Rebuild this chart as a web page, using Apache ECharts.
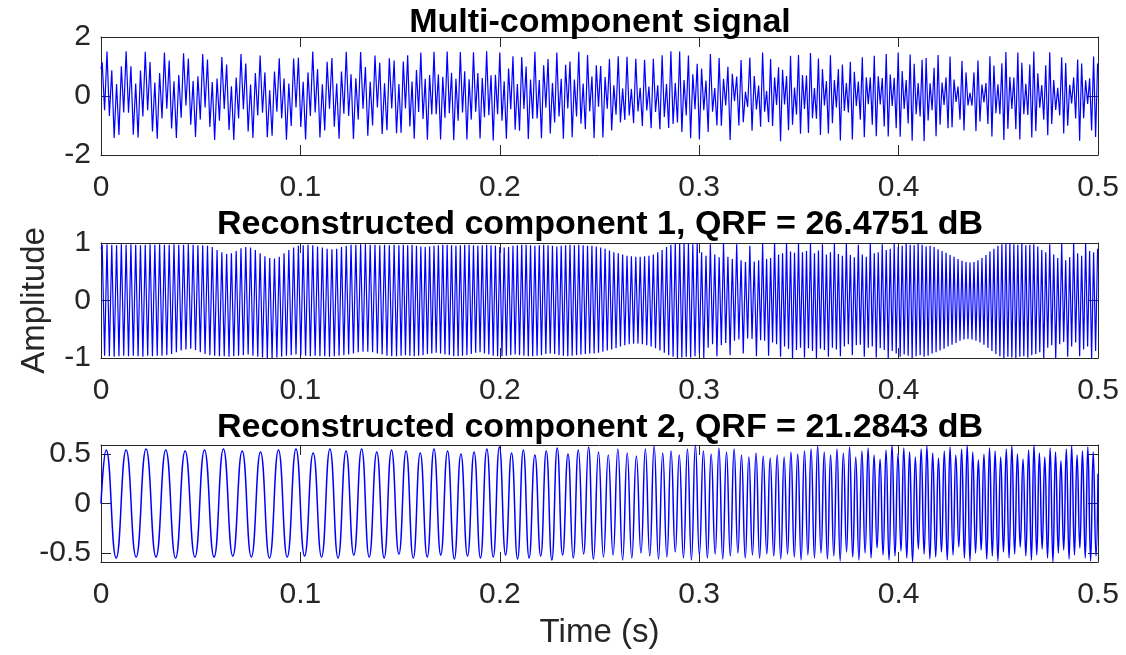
<!DOCTYPE html>
<html>
<head>
<meta charset="utf-8">
<script src="https://cdn.jsdelivr.net/npm/echarts@6/dist/echarts.min.js"></script>
<style>
  html, body { margin: 0; padding: 0; background: #ffffff; }
  #chart { width: 1126px; height: 655px; }
</style>
</head>
<body>
<div id="chart"></div>
<script>
// ---- data -------------------------------------------------------------
// Time axis (ms) and its tick positions.
const timeTickMs = [0, 100, 200, 300, 400, 500];

const panelTitles = [
  'Multi-component signal',
  'Reconstructed component 1, QRF = 26.4751 dB',
  'Reconstructed component 2, QRF = 21.2843 dB'
];

const mixtureYTicks = [-2, 0, 2];
const comp1YTicks = [-1, 0, 1];
const comp2YTicks = [-0.5, 0, 0.5];

// Turning points (ms) of the fast 400-500 Hz oscillation, shared by the
// multi-component signal and the reconstructed component 1.
const carrierExtremaMs = [0,
  0.6,1.8,3,4.2,5.4,6.6,7.8,9,10.2,11.4,
  12.6,13.8,15,16.2,17.4,18.6,19.8,21,22.2,23.4,
  24.6,25.8,27,28.2,29.4,30.6,31.8,33,34.2,35.4,
  36.6,37.8,39,40.2,41.4,42.6,43.8,45,46.2,47.4,
  48.6,49.8,51,52.2,53.4,54.6,55.8,57,58.2,59.4,
  60.6,61.8,63,64.2,65.4,66.6,67.8,69,70.2,71.4,
  72.6,73.8,75,76.2,77.4,78.6,79.8,81,82.2,83.4,
  84.6,85.8,87,88.2,89.4,90.6,91.8,93,94.2,95.4,
  96.6,97.8,99,100.2,101.4,102.6,103.8,105,106.2,107.4,
  108.6,109.8,111,112.2,113.4,114.6,115.8,117,118.2,119.4,
  120.6,121.8,123,124.2,125.4,126.6,127.8,129,130.2,131.4,
  132.6,133.8,135,136.2,137.4,138.6,139.8,141,142.2,143.4,
  144.6,145.8,147,148.2,149.4,
  150.5,151.6,152.7,153.8,154.9,156,157.1,158.2,159.3,160.4,
  161.5,162.6,163.7,164.8,165.9,167,168.1,169.2,170.3,171.4,
  172.5,173.6,174.7,175.8,176.9,178,179.1,180.2,181.3,182.4,
  183.5,184.6,185.7,186.8,187.9,189,190.1,191.2,192.3,193.4,
  194.5,195.6,196.7,197.8,198.9,200,201.1,202.2,203.3,204.4,
  205.5,206.6,207.7,208.8,209.9,211,212.1,213.2,214.3,215.4,
  216.5,217.6,218.7,219.8,220.9,222,223.1,224.2,225.3,226.4,
  227.5,228.6,229.7,230.8,231.9,233,234.1,235.2,236.3,237.4,
  238.5,239.6,240.7,241.8,242.9,244,245.1,246.2,247.3,248.4,
  249.5,250.6,251.7,252.8,253.9,255,256.1,257.2,258.3,259.4,
  260.5,261.6,262.7,263.8,264.9,266,267.1,268.2,269.3,270.4,
  271.5,272.6,273.7,274.8,275.9,277,278.1,279.2,280.3,281.4,
  282.5,283.6,284.7,285.8,286.9,288,289.1,290.2,291.3,292.4,
  293.5,294.6,295.7,296.8,297.9,299,300.1,301.2,302.3,303.4,
  304.5,305.6,306.7,307.8,308.9,310,311.1,312.2,313.3,314.4,
  315.5,316.6,317.7,318.8,319.9,321,322.1,323.2,324.3,325.4,
  326.5,327.6,328.7,329.8,
  330.8,331.8,332.8,333.8,334.8,335.8,336.8,337.8,338.8,339.8,
  340.8,341.8,342.8,343.8,344.8,345.8,346.8,347.8,348.8,349.8,
  350.8,351.8,352.8,353.8,354.8,355.8,356.8,357.8,358.8,359.8,
  360.8,361.8,362.8,363.8,364.8,365.8,366.8,367.8,368.8,369.8,
  370.8,371.8,372.8,373.8,374.8,375.8,376.8,377.8,378.8,379.8,
  380.8,381.8,382.8,383.8,384.8,385.8,386.8,387.8,388.8,389.8,
  390.8,391.8,392.8,393.8,394.8,395.8,396.8,397.8,398.8,399.8,
  400.8,401.8,402.8,403.8,404.8,405.8,406.8,407.8,408.8,409.8,
  410.8,411.8,412.8,413.8,414.8,415.8,416.8,417.8,418.8,419.8,
  420.8,421.8,422.8,423.8,424.8,425.8,426.8,427.8,428.8,429.8,
  430.8,431.8,432.8,433.8,434.8,435.8,436.8,437.8,438.8,439.8,
  440.8,441.8,442.8,443.8,444.8,445.8,446.8,447.8,448.8,449.8,
  450.8,451.8,452.8,453.8,454.8,455.8,456.8,457.8,458.8,459.8,
  460.8,461.8,462.8,463.8,464.8,465.8,466.8,467.8,468.8,469.8,
  470.8,471.8,472.8,473.8,474.8,475.8,476.8,477.8,478.8,479.8,
  480.8,481.8,482.8,483.8,484.8,485.8,486.8,487.8,488.8,489.8,
  490.8,491.8,492.8,493.8,494.8,495.8,496.8,497.8,498.8,499.8
];

// Multi-component signal, value at each turning point above.
const mixtureValues = [0.92,
  1.14,-0.48,1.51,-0.68,0.87,-1.42,0.41,-1.32,1.01,-0.56,
  1.52,-0.57,1.01,-1.31,0.42,-1.41,0.86,-0.69,1.50,-0.48,
  1.15,-1.20,0.46,-1.45,0.78,-0.76,1.47,-0.43,1.20,-1.10,
  0.50,-1.42,0.71,-0.74,1.45,-0.32,1.27,-0.97,0.51,-1.39,
  0.67,-0.80,1.42,-0.39,1.24,-1.05,0.47,-1.49,0.59,-0.84,
  1.32,-0.44,1.07,-1.15,0.33,-1.49,0.63,-0.76,1.42,-0.45,
  1.10,-1.20,0.39,-1.42,0.78,-0.66,1.37,-0.57,0.80,-1.40,
  0.19,-1.35,0.83,-0.53,1.28,-0.75,0.59,-1.48,0.42,-1.02,
  1.27,-0.39,1.30,-1.05,0.48,-1.47,0.80,-0.68,1.51,-0.56,
  0.91,-1.41,0.40,-1.17,1.16,-0.43,1.29,-1.04,0.42,-1.45,
  0.83,-0.60,1.50,-0.68,0.74,-1.46,0.60,-0.80,1.49,-0.43,
  0.98,-1.35,0.48,-1.00,1.37,-0.39,1.13,-1.29,0.43,-1.16,
  1.28,-0.42,1.20,-1.26,0.41,
  -1.25,1.17,-0.42,1.38,-1.03,0.49,-1.45,0.88,-0.54,1.47,
  -0.78,0.58,-1.48,0.71,-0.63,1.50,-0.62,0.73,-1.47,0.65,
  -0.74,1.51,-0.58,0.79,-1.50,0.58,-0.84,1.49,-0.56,0.84,
  -1.47,0.57,-0.80,1.48,-0.53,0.78,-1.44,0.61,-0.72,1.52,
  -0.65,0.70,-1.51,0.72,-0.62,1.47,-0.84,0.50,-1.45,0.93,
  -0.45,1.35,-1.14,0.41,-1.18,1.32,-0.44,1.00,-1.46,0.56,
  -0.77,1.50,-0.76,0.54,-1.43,1.04,-0.40,1.25,-1.27,0.44,
  -0.90,1.47,-0.69,0.58,-1.45,1.06,-0.42,1.17,-1.40,0.56,
  -0.69,1.50,-0.94,0.42,-1.13,1.39,-0.52,0.66,-1.43,1.04,
  -0.36,1.02,-1.41,0.64,-0.43,1.25,-1.17,0.36,-0.63,1.35,
  -0.90,0.25,-0.81,1.33,-0.66,0.24,-0.92,1.26,-0.52,0.28,
  -1.02,1.23,-0.49,0.32,-1.09,1.26,-0.54,0.36,-1.13,1.38,
  -0.71,0.41,-1.08,1.52,-0.95,0.44,-0.90,1.51,-1.22,0.54,
  -0.66,1.37,-1.43,0.74,-0.45,1.09,-1.47,0.93,-0.48,0.52,
  -1.22,1.42,-0.53,0.27,-1.00,1.29,-1.01,0.58,-0.32,0.99,
  -1.49,0.75,-0.18,0.66,-1.00,1.22,-0.89,0.14,-0.37,1.30,
  -1.18,0.68,-0.46,0.35,
  -1.04,1.47,-0.53,0.17,-0.89,1.25,-1.02,0.63,-0.30,0.97,
  -1.53,0.89,-0.29,0.68,-1.16,1.36,-0.97,0.29,-0.63,1.39,
  -1.28,0.71,-0.44,0.69,-1.25,1.46,-0.75,0.27,-0.77,1.27,
  -1.32,0.91,-0.32,0.51,-1.27,1.38,-0.92,0.54,-0.39,0.91,
  -1.51,1.07,-0.51,0.44,-0.56,1.16,-1.47,0.82,-0.34,0.49,
  -0.80,1.31,-1.40,0.63,-0.28,0.63,-0.97,1.36,-1.36,0.67,
  -0.29,0.61,-1.03,1.42,-1.37,0.73,-0.34,0.62,-1.09,1.47,
  -1.38,0.85,-0.44,0.54,-0.93,1.41,-1.52,1.09,-0.62,0.44,
  -0.69,1.23,-1.53,1.29,-0.83,0.43,-0.48,0.96,-1.36,1.39,
  -0.97,0.46,-0.30,0.63,-1.09,1.34,-1.06,0.56,-0.20,0.32,
  -0.80,1.19,-1.17,0.80,-0.32,0.11,-0.33,0.80,-1.19,1.20,
  -0.86,0.39,-0.22,0.44,-0.95,1.35,-1.37,1.03,-0.58,0.40,
  -0.62,1.11,-1.49,1.49,-1.11,0.65,-0.44,0.63,-1.13,1.47,
  -1.47,1.13,-0.62,0.41,-0.64,1.07,-1.41,1.51,-1.19,0.77,
  -0.40,0.37,-0.80,1.04,-1.33,1.48,-0.95,0.54,-0.47,0.28,
  -0.66,1.31,-1.27,1.12,-1.01,0.38,-0.25,0.63,-0.76,1.24,
  -1.52,1.10,-0.75,0.53,-0.27,0.60,-1.17,1.34,-1.39,1.10
];

// Reconstructed component 1, value at each turning point.
const component1Values = [0.9,
  0.97,-0.96,0.98,-0.97,0.97,-0.98,0.96,-0.97,0.98,-0.96,
  0.97,-0.97,0.98,-0.96,0.97,-0.97,0.96,-0.98,0.97,-0.96,
  0.98,-0.97,0.97,-0.96,0.98,-0.96,0.97,-0.95,0.97,-0.93,
  0.98,-0.90,0.97,-0.87,0.97,-0.85,0.98,-0.84,0.97,-0.86,
  0.96,-0.90,0.96,-0.93,0.95,-0.95,0.93,-0.96,0.88,-0.97,
  0.84,-0.97,0.81,-0.98,0.82,-0.97,0.86,-0.96,0.91,-0.95,
  0.93,-0.94,0.92,-0.96,0.88,-0.98,0.82,-0.99,0.77,-1.0,
  0.74,-1.0,0.73,-0.99,0.76,-0.98,0.82,-0.96,0.88,-0.95,
  0.92,-0.94,0.95,-0.95,0.96,-0.96,0.97,-0.97,0.96,-0.96,
  0.94,-0.97,0.92,-0.97,0.90,-0.98,0.89,-0.97,0.90,-0.96,
  0.93,-0.95,0.95,-0.94,0.97,-0.92,0.97,-0.90,0.98,-0.89,
  0.98,-0.89,0.97,-0.90,0.97,-0.92,0.96,-0.94,0.97,-0.96,
  0.96,-0.97,0.97,-0.97,0.96,
  -0.96,0.97,-0.95,0.96,-0.96,0.97,-0.97,0.95,-0.96,0.94,
  -0.95,0.93,-0.93,0.94,-0.92,0.95,-0.91,0.96,-0.92,0.97,
  -0.94,0.97,-0.95,0.96,-0.97,0.95,-0.97,0.96,-0.96,0.97,
  -0.95,0.97,-0.93,0.96,-0.91,0.95,-0.90,0.96,-0.92,0.97,
  -0.94,0.96,-0.96,0.95,-0.97,0.93,-0.97,0.92,-0.96,0.93,
  -0.95,0.95,-0.94,0.96,-0.95,0.97,-0.96,0.97,-0.97,0.96,
  -0.97,0.95,-0.96,0.96,-0.95,0.97,-0.93,0.96,-0.92,0.95,
  -0.93,0.94,-0.95,0.95,-0.96,0.96,-0.97,0.97,-0.96,0.96,
  -0.95,0.97,-0.94,0.96,-0.93,0.95,-0.92,0.95,-0.92,0.94,
  -0.91,0.92,-0.89,0.90,-0.87,0.87,-0.85,0.84,-0.83,0.82,
  -0.80,0.80,-0.78,0.78,-0.76,0.77,-0.75,0.76,-0.75,0.76,
  -0.76,0.77,-0.78,0.78,-0.80,0.80,-0.83,0.84,-0.87,0.88,
  -0.91,0.93,-0.95,0.97,-0.98,0.99,-1.0,0.99,-0.99,1.0,
  -0.98,0.99,-0.99,0.98,-0.97,1.0,-0.92,0.84,-1.0,0.78,
  -0.82,0.98,-0.76,0.80,-0.97,0.75,-0.78,1.0,-0.74,0.76,
  -0.95,0.72,-0.70,0.98,-0.68,0.70,-0.92,0.67,-0.66,0.95,
  -0.67,0.68,-0.97,0.70,
  -0.69,0.99,-0.70,0.72,-0.96,0.74,-0.73,1.0,-0.76,0.80,
  -0.98,0.82,-0.80,1.0,-0.84,0.85,-1.0,0.83,-0.86,0.99,
  -0.82,0.84,-0.99,0.86,-0.83,1.0,-0.88,0.82,-1.0,0.87,
  -0.84,0.98,-0.86,0.80,-0.98,0.84,-0.82,1.0,-0.85,0.81,
  -0.97,0.78,-0.80,0.99,-0.76,0.79,-0.95,0.75,-0.78,0.97,
  -0.77,0.80,-0.98,0.76,-0.82,1.0,-0.80,0.82,-0.99,0.84,
  -0.83,0.98,-0.86,0.88,-1.0,0.90,-0.88,0.99,-0.92,0.93,
  -0.98,0.95,-0.94,1.0,-0.96,0.97,-1.0,0.96,-0.97,0.99,
  -0.95,0.97,-0.98,0.94,-0.96,0.95,-0.92,0.93,-0.90,0.89,
  -0.87,0.86,-0.84,0.83,-0.80,0.79,-0.77,0.76,-0.74,0.72,
  -0.70,0.69,-0.68,0.67,-0.67,0.66,-0.68,0.67,-0.70,0.70,
  -0.73,0.74,-0.77,0.79,-0.82,0.85,-0.88,0.90,-0.93,0.95,
  -0.97,0.98,-1.0,0.99,-0.98,1.0,-0.99,0.98,-1.0,0.97,
  -0.98,1.0,-0.97,0.96,-0.99,0.97,-0.95,0.98,-0.93,0.94,
  -0.90,0.88,-1.0,0.84,-0.82,0.98,-0.78,0.80,-1.0,0.74,
  -0.76,0.99,-0.72,0.70,-0.98,0.75,-0.80,1.0,-0.73,0.82,
  -0.97,0.78,-0.85,0.99,-0.80,0.86,-1.0,0.84,-0.88,0.90
];

// Turning points (ms) of the slower, rising-frequency component 2.
const component2ExtremaMs = [0,
  2.6,7.6,12.6,17.6,22.6,27.6,32.5,37.4,42.2,47.1,
  51.9,56.7,61.4,66.1,70.8,75.4,80.0,84.5,89.0,93.4,
  97.8,102.1,106.4,110.6,114.8,118.9,122.9,126.8,130.7,134.5,
  138.3,142.0,145.7,149.4,153.0,156.6,160.1,163.6,167.0,170.4,
  173.8,177.2,180.5,183.8,187.1,190.3,193.5,196.7,199.8,202.9,
  205.9,208.9,211.8,214.7,217.6,220.5,223.3,226.1,228.8,231.5,
  234.2,236.8,239.4,242.0,244.5,247.0,249.5,252.0,254.4,256.8,
  259.2,261.6,263.9,266.2,268.5,270.8,273.0,275.2,277.4,279.6,
  281.7,283.8,285.9,288.0,290.0,292.1,294.1,296.1,298.1,300.1,
  302.1,304.1,306.0,308.0,309.9,311.8,313.7,315.6,317.5,319.4,
  321.2,323.1,324.9,326.7,328.5,330.3,332.1,333.9,335.6,337.4,
  339.1,340.9,342.6,344.3,346.0,347.7,349.4,351.1,352.8,354.5,
  356.1,357.8,359.4,361.1,362.7,364.3,365.9,367.5,369.1,370.7,
  372.3,373.9,375.4,377.0,378.5,380.1,381.6,383.2,384.7,386.2,
  387.7,389.2,390.7,392.2,393.7,395.2,396.7,398.2,399.7,401.2,
  402.6,404.1,405.5,407.0,408.4,409.9,411.3,412.8,414.2,415.7,
  417.1,418.6,420.0,421.5,422.9,424.4,425.8,427.3,428.7,430.2,
  431.6,433.0,434.4,435.8,437.2,438.6,440.0,441.4,442.8,444.2,
  445.6,447.0,448.4,449.8,451.2,452.6,454.0,455.4,456.8,458.2,
  459.6,461.0,462.4,463.8,465.2,466.6,467.9,469.3,470.6,472.0,
  473.3,474.7,476.0,477.4,478.7,480.1,481.4,482.8,484.1,485.5,
  486.8,488.2,489.5,490.9,492.2,493.6,494.9,496.3,497.6,499.0,
  500
];

const component2Values = [0,
  0.54,-0.55,0.54,-0.54,0.55,-0.54,0.54,-0.55,0.53,-0.54,
  0.54,-0.54,0.55,-0.53,0.53,-0.54,0.52,-0.55,0.54,-0.54,
  0.55,-0.53,0.51,-0.54,0.55,-0.55,0.53,-0.52,0.55,-0.54,
  0.52,-0.55,0.54,-0.51,0.53,-0.55,0.51,-0.54,0.55,-0.52,
  0.53,-0.56,0.50,-0.53,0.52,-0.55,0.55,-0.54,0.57,-0.52,
  0.51,-0.56,0.54,-0.55,0.49,-0.53,0.53,-0.57,0.56,-0.52,
  0.50,-0.55,0.54,-0.51,0.57,-0.56,0.52,-0.54,0.49,-0.52,
  0.55,-0.57,0.51,-0.55,0.48,-0.50,0.55,-0.53,0.58,-0.56,
  0.51,-0.54,0.53,-0.49,0.49,-0.55,0.55,-0.57,0.59,-0.52,
  0.53,-0.55,0.50,-0.51,0.56,-0.56,0.52,-0.53,0.55,-0.50,
  0.49,-0.55,0.47,-0.52,0.51,-0.55,0.48,-0.51,0.46,-0.53,
  0.49,-0.56,0.47,-0.51,0.52,-0.54,0.50,-0.57,0.53,-0.52,
  0.55,-0.55,0.58,-0.50,0.52,-0.56,0.49,-0.53,0.55,-0.58,
  0.51,-0.49,0.57,-0.54,0.47,-0.57,0.53,-0.50,0.56,-0.55,
  0.49,-0.45,0.45,-0.52,0.54,-0.57,0.59,-0.53,0.50,-0.48,
  0.56,-0.55,0.52,-0.59,0.47,-0.46,0.55,-0.51,0.58,-0.56,
  0.51,-0.54,0.46,-0.49,0.53,-0.57,0.57,-0.52,0.49,-0.44,
  0.55,-0.55,0.59,-0.58,0.52,-0.50,0.44,-0.47,0.50,-0.56,
  0.56,-0.53,0.53,-0.58,0.47,-0.49,0.55,-0.55,0.58,-0.51,
  0.50,-0.44,0.45,-0.53,0.54,-0.57,0.59,-0.52,0.51,-0.46,
  0.47,-0.55,0.56,-0.59,0.52,-0.50,0.43,-0.47,0.55,-0.56,
  0.58,-0.52,0.49,-0.45,0.53,-0.55,0.57,-0.58,0.52,-0.53,
  0.3
];

// ---- styling ----------------------------------------------------------
const FONT = '"Liberation Sans", Arial, Helvetica, sans-serif';
const AXIS_COLOR = '#262626';
const LINE_COLOR = '#0000ff';
const TICK_FONT = 30;
const LABEL_FONT = 33;
const TITLE_FONT = 34;

// Three stacked panels (pixel boxes of the plot areas).
const panels = [
  { top: 37,  height: 118 },
  { top: 243, height: 115 },
  { top: 445, height: 117 }
];
const PLOT_LEFT = 101;
const PLOT_WIDTH = 997;
const TITLE_CENTER = 595;

const pairs = (xs, ys) => xs.map((x, i) => [x, ys[i]]);

function timeAxes(gridIndex, withName) {
  const base = {
    type: 'value', gridIndex, min: timeTickMs[0], max: timeTickMs[timeTickMs.length - 1],
    interval: timeTickMs[1] - timeTickMs[0],
    axisLine: { show: true, onZero: false, lineStyle: { color: AXIS_COLOR, width: 1 } },
    axisTick: { show: true, inside: true, length: 10, lineStyle: { color: AXIS_COLOR, width: 1 } },
    splitLine: { show: false }
  };
  return [
    Object.assign({}, base, {
      position: 'bottom',
      axisLabel: {
        show: true, margin: 18, fontSize: TICK_FONT, fontFamily: FONT, color: AXIS_COLOR,
        showMinLabel: true, showMaxLabel: true,
        formatter: v => String(v / 1000)
      },
      name: withName ? 'Time (s)' : '',
      nameLocation: 'middle', nameGap: 54,
      nameTextStyle: { fontSize: LABEL_FONT, fontFamily: FONT, color: AXIS_COLOR }
    }),
    Object.assign({}, base, { position: 'top', axisLabel: { show: false } })
  ];
}

function valueAxes(gridIndex, ticks, limits, name) {
  const tickOpt = { show: true, inside: true, length: 10, lineStyle: { color: AXIS_COLOR, width: 1 }, customValues: ticks };
  const base = {
    type: 'value', gridIndex, min: limits[0], max: limits[1],
    axisLine: { show: true, onZero: false, lineStyle: { color: AXIS_COLOR, width: 1 } },
    axisTick: tickOpt,
    splitLine: { show: false }
  };
  return [
    Object.assign({}, base, {
      position: 'left',
      axisLabel: {
        show: true, margin: 10, fontSize: TICK_FONT, fontFamily: FONT, color: AXIS_COLOR,
        customValues: ticks, showMinLabel: true, showMaxLabel: true
      },
      name: name || '', nameLocation: 'middle', nameGap: 50, nameRotate: 90,
      nameTextStyle: { fontSize: LABEL_FONT, fontFamily: FONT, color: AXIS_COLOR }
    }),
    Object.assign({}, base, { position: 'right', axisLabel: { show: false } })
  ];
}

const xAxes = [].concat(timeAxes(0, false), timeAxes(1, false), timeAxes(2, true));
const yAxes = [].concat(
  valueAxes(0, mixtureYTicks, [-2, 2]),
  valueAxes(1, comp1YTicks, [-1, 1], 'Amplitude'),
  valueAxes(2, comp2YTicks, [-0.59, 0.59])
);

const titleTops = [1, 203, 406];

const option = {
  animation: false,
  backgroundColor: '#ffffff',
  title: panelTitles.map((text, i) => ({
    text, left: TITLE_CENTER, top: titleTops[i], textAlign: 'center',
    textStyle: { fontSize: TITLE_FONT, fontWeight: 'bold', fontFamily: FONT, color: '#000000' }
  })),
  grid: panels.map(p => ({ left: PLOT_LEFT, top: p.top, width: PLOT_WIDTH, height: p.height, containLabel: false })),
  xAxis: xAxes,
  yAxis: yAxes,
  series: [
    {
      type: 'line', xAxisIndex: 0, yAxisIndex: 0, showSymbol: false, clip: true,
      lineStyle: { color: LINE_COLOR, width: 1.2 },
      data: pairs(carrierExtremaMs, mixtureValues)
    },
    {
      type: 'line', xAxisIndex: 2, yAxisIndex: 2, showSymbol: false, clip: true,
      lineStyle: { color: LINE_COLOR, width: 1.2 },
      data: pairs(carrierExtremaMs, component1Values)
    },
    {
      type: 'line', xAxisIndex: 4, yAxisIndex: 4, showSymbol: false, clip: true, smooth: 0.5,
      lineStyle: { color: LINE_COLOR, width: 1.5 },
      data: pairs(component2ExtremaMs, component2Values)
    }
  ]
};

const chart = echarts.init(document.getElementById('chart'), null, { renderer: 'canvas' });
chart.setOption(option);
</script>
</body>
</html>
